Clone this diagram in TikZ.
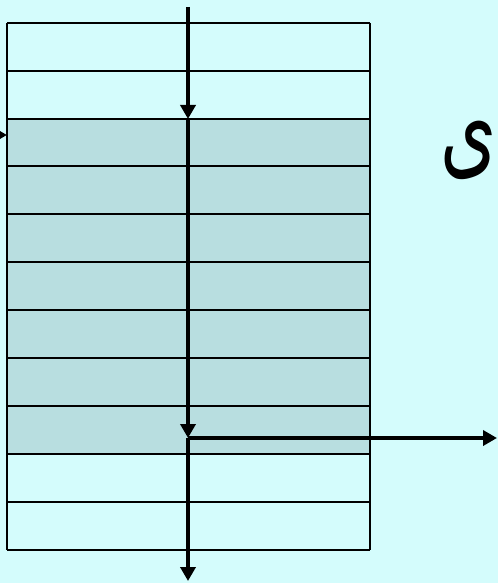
\documentclass[tikz,border=0pt]{standalone}
\usepackage{fontspec}
\usetikzlibrary{arrows.meta}
\TeXXeTstate=1
\newfontfamily\arabicfont[Script=Arabic]{DejaVu Sans}
\definecolor{bgc}{HTML}{D4FCFC}
\definecolor{rowshade}{HTML}{B8DEE0}
\tikzset{
  rowline/.style={line width=2.6pt, black},
  flow/.style={line width=3.6pt, black, -{Triangle[length=14pt,width=15pt]}},
}
\begin{document}
\begin{tikzpicture}[x=1pt,y=-1pt]
\useasboundingbox (0,0) rectangle (498,583);
\clip (0,0) rectangle (498,583);
\fill[bgc] (0,0) rectangle (498,583);
\fill[rowshade] (7,119) rectangle (370,454);
\foreach \y in {23,71,119,166,214,262,310,358,406,454,502,550}
  \draw[rowline] (7,\y) -- (370,\y);
\draw[rowline] (7,23) -- (7,550);
\draw[rowline] (370,23) -- (370,550);
\coordinate (top) at (188,7);
\coordinate (entry) at (188,119);
\coordinate (split) at (188,438);
\coordinate (bottom) at (188,581);
\coordinate (right) at (497,438);
\coordinate (lstart) at (-20,135);
\coordinate (lend) at (7,135);
\draw[flow] (top) -- (entry);
\draw[flow] (entry) -- (split);
\draw[flow] (split) -- (bottom);
\draw[flow] (split) -- (right);
\draw[flow] (lstart) -- (lend);
\node[font=\arabicfont\fontsize{72}{74}\selectfont, inner sep=0pt] (ye) at (469,150) {\scalebox{1}[1.5]{\beginR ی\endR}};
\end{tikzpicture}
\end{document}
